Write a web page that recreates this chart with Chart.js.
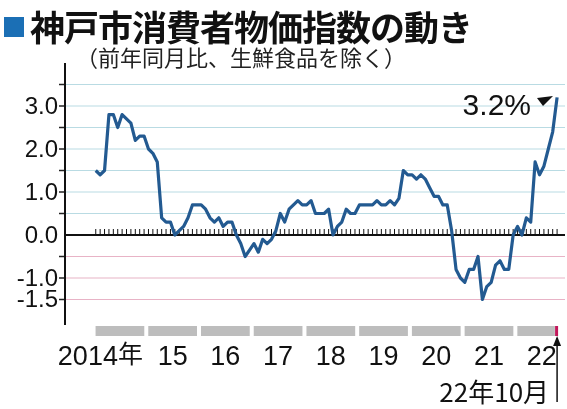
<!DOCTYPE html>
<html><head><meta charset="utf-8">
<script src="https://cdn.jsdelivr.net/npm/chart.js@4"></script>
<style>
body{margin:0;background:#fff;font-family:"Noto Sans CJK JP",sans-serif;}
#wrap{position:relative;width:567px;height:409px;}
#title{position:absolute;left:4px;top:0px;font-size:35px;font-weight:bold;color:#111;white-space:nowrap;letter-spacing:-1px}
#title span{display:inline-block;width:20px;height:20px;background:#1b6fb5;margin-right:6px;vertical-align:4px}
#sub{position:absolute;left:76px;top:40px;font-size:22px;color:#222;white-space:nowrap}
canvas{position:absolute;left:0;top:0}
</style></head><body>
<div id="wrap">
<canvas id="graph" width="567" height="409"></canvas>
<div id="title"><span></span>神戸市消費者物価指数の動き</div>
<div id="sub">（前年同月比、生鮮食品を除く）</div>
</div>
<script>
// monthly values, Jan 2014 .. Oct 2022
const values = [
 1.5,1.4,1.5,2.8,2.8,2.5,2.8,2.7,2.6,2.2,2.3,2.3,
 2.0,1.9,1.7,0.4,0.3,0.3,0.0,0.1,0.2,0.4,0.7,0.7,
 0.7,0.6,0.4,0.3,0.4,0.2,0.3,0.3,0.0,-0.2,-0.5,-0.35,
 -0.2,-0.4,-0.1,-0.2,-0.1,0.1,0.5,0.3,0.6,0.7,0.8,0.7,
 0.7,0.8,0.5,0.5,0.5,0.6,0.0,0.2,0.3,0.6,0.5,0.5,
 0.7,0.7,0.7,0.7,0.8,0.7,0.7,0.8,0.7,0.85,1.5,1.4,
 1.4,1.3,1.4,1.3,1.1,0.9,0.9,0.7,0.7,0.1,-0.8,-1.0,
 -1.1,-0.8,-0.8,-0.5,-1.5,-1.2,-1.1,-0.7,-0.6,-0.8,-0.8,0.0,
 0.2,0.0,0.4,0.3,1.7,1.4,1.6,2.0,2.4,3.2
];
const yearLabels = ['2014年','15','16','17','18','19','20','21','22'];
const yTickLabels = ['3.0','2.0','1.0','0.0','-1.0','-1.5'];
const yTickValues = [3,2,1,0,-1,-1.5];
const points = values.map((v,i)=>({x:i,y:v}));

const deco = {
  id:'deco',
  beforeDatasetsDraw(c){
    const ctx=c.ctx, xs=c.scales.x, ys=c.scales.y, a=c.chartArea;
    ctx.save();
    for(let g=-1.5; g<=3.51; g+=0.5){
      if(Math.abs(g)<0.01) continue;
      const y=ys.getPixelForValue(g);
      ctx.strokeStyle = g<0 ? '#e8b3c6' : '#b9dbe3';
      ctx.lineWidth=1.2;
      ctx.beginPath();ctx.moveTo(a.left,y);ctx.lineTo(a.right,y);ctx.stroke();
      ctx.strokeStyle='#222';ctx.lineWidth=1.5;
      ctx.beginPath();ctx.moveTo(a.left-6,y);ctx.lineTo(a.left,y);ctx.stroke();
    }
    // zero line with month ticks
    const y0=ys.getPixelForValue(0);
    ctx.strokeStyle='#111';ctx.lineWidth=2;
    ctx.beginPath();ctx.moveTo(a.left,y0);ctx.lineTo(a.right,y0);ctx.stroke();
    ctx.lineWidth=1;
    for(let i=0;i<values.length;i++){
      const x=xs.getPixelForValue(i);
      ctx.beginPath();ctx.moveTo(x,y0-6);ctx.lineTo(x,y0);ctx.stroke();
    }
    // y axis
    ctx.lineWidth=2;
    ctx.beginPath();ctx.moveTo(a.left,a.top);ctx.lineTo(a.left,a.bottom+4);ctx.stroke();
    // y labels
    ctx.fillStyle='#111';ctx.font='24px "Liberation Sans", sans-serif';
    ctx.textAlign='right';ctx.textBaseline='middle';
    yTickValues.forEach((v,k)=>ctx.fillText(yTickLabels[k],58,ys.getPixelForValue(v)+1));
    // year bars
    const by=a.bottom+5;
    yearLabels.forEach((lab,k)=>{
      const x1=xs.getPixelForValue(12*k-0.5)+2;
      let x2=xs.getPixelForValue(12*k+11.5)-2;
      if(k===8) x2=xs.getPixelForValue(values.length-1.5);
      ctx.fillStyle='#bdbdbd';ctx.fillRect(x1,by,x2-x1,10);
      const cx=(x1+xs.getPixelForValue(12*k+11.5)-2)/2;
      ctx.fillStyle='#111';ctx.font='27px "Liberation Sans", sans-serif';
      ctx.textBaseline='alphabetic';
      if(k===0){ctx.textAlign='right';ctx.fillText('2014',cx-2,365);
        ctx.textAlign='left';ctx.font='25px "Noto Sans CJK JP"';ctx.fillText('年',cx-2,363);}
      else{ctx.textAlign='center';ctx.fillText(lab,cx,365);}
    });
    const xl=xs.getPixelForValue(values.length-1);
    ctx.fillStyle='#c2185b';ctx.fillRect(xl-2,by,3,10);
    // arrow for 22年10月
    ctx.strokeStyle='#111';ctx.lineWidth=1.5;
    ctx.beginPath();ctx.moveTo(xl,by+76);ctx.lineTo(xl,by+12);ctx.stroke();
    ctx.fillStyle='#111';
    ctx.beginPath();ctx.moveTo(xl,by+10);ctx.lineTo(xl-4,by+20);ctx.lineTo(xl+4,by+20);ctx.fill();
    ctx.font='26px "Noto Sans CJK JP"';ctx.textAlign='right';
    ctx.fillText('22年10月',xl-8,402);
    // 3.2% callout
    ctx.font='30px "Liberation Sans", sans-serif';
    ctx.fillText('3.2%',531,115);
    ctx.beginPath();ctx.moveTo(537,98);ctx.lineTo(553,96);ctx.lineTo(543,106);ctx.fill();
    ctx.restore();
  }
};

new Chart(document.getElementById('graph').getContext('2d'),{
  type:'line',
  data:{datasets:[{data:points,borderColor:'#235a91',borderWidth:3.2,pointRadius:0,tension:0,borderJoinStyle:'round'}]},
  options:{
    responsive:false,animation:false,
    layout:{padding:{left:65,top:63,right:2,bottom:88}},
    plugins:{legend:{display:false},tooltip:{enabled:false}},
    scales:{
      x:{type:'linear',min:-7,max:106.8,display:false},
      y:{min:-2,max:4,display:false}
    }
  },
  plugins:[deco]
});
</script>
</body></html>
